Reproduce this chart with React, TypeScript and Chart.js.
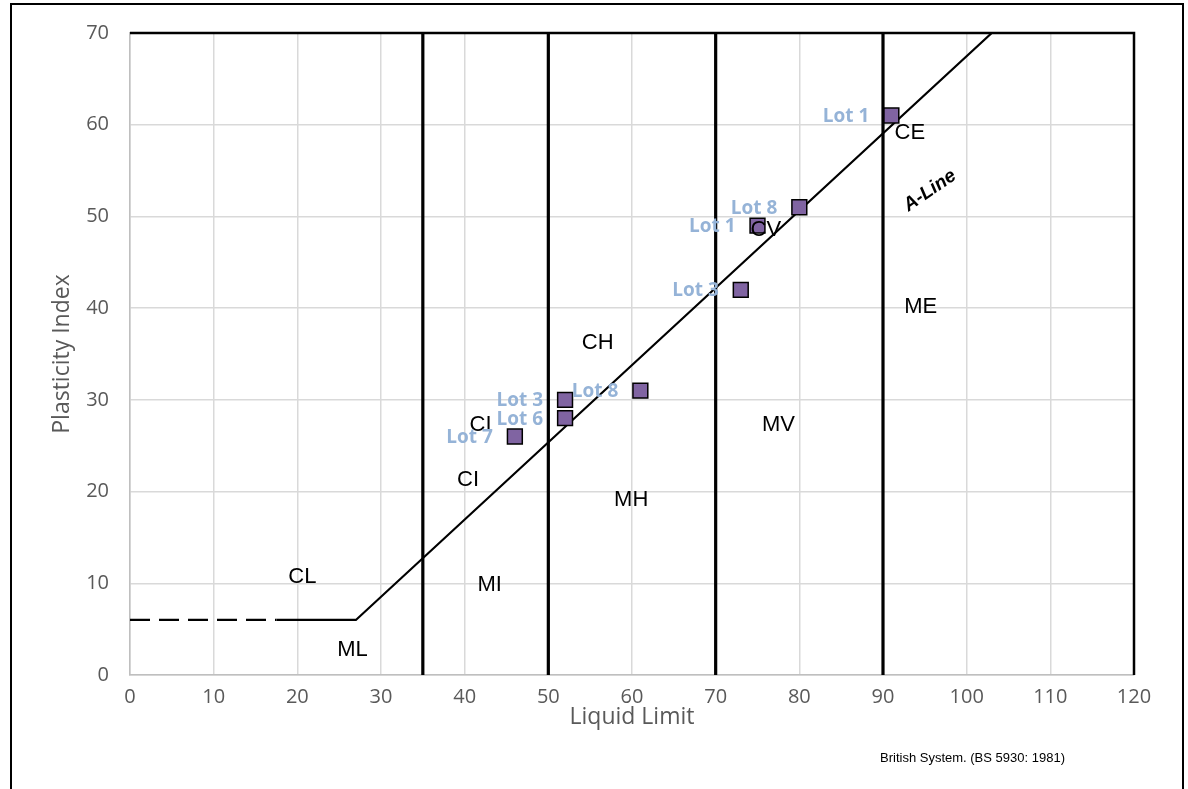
import React, { useEffect, useRef } from "react";
import { Chart, registerables } from "chart.js";

Chart.register(...registerables);

// ---- data ----
const lotNames = ["Lot 1", "Lot 8", "Lot 1", "Lot 3", "Lot 8", "Lot 3", "Lot 6", "Lot 7"];
const liquidLimit = [91, 80, 75, 73, 61, 52, 52, 46];
const plasticityIndex = [61, 51, 49, 42, 31, 30, 28, 26];

const aLineSolidX = [17.5, 27, 103];
const aLineSolidY = [6, 6, 70];
const aLineDashX = [0, 17.5];
const aLineDashY = [6, 6];

const boundaryLL = [35, 50, 70, 90];

const zoneNames = ["CL", "ML", "MI", "CI", "CI", "MH", "CH", "MV", "CV", "ME", "CE"];
const zoneX = [20.6, 26.6, 43.0, 40.4, 41.9, 59.9, 55.9, 77.5, 76.0, 94.5, 93.2];
const zoneY = [10.7, 2.7, 9.8, 21.3, 27.3, 19.1, 36.2, 27.3, 48.5, 40.1, 59.1];

const aLineLabel = { text: "A-Line", x: 95.6, y: 52.8 };

const xTicksMax = 120;
const yTicksMax = 70;
const tickStep = 10;

const footnote = "British System. (BS 5930: 1981)";

const labelPlugin = {
  id: "labels",
  afterDatasetsDraw(chart: any) {
    const ctx = chart.ctx;
    const xs = chart.scales.x;
    const ys = chart.scales.y;
    ctx.save();
    // zone labels
    ctx.fillStyle = "#000";
    ctx.font = '22px "Liberation Sans", Arial, sans-serif';
    ctx.textAlign = "center";
    ctx.textBaseline = "middle";
    zoneNames.forEach((n, i) => {
      ctx.fillText(n, xs.getPixelForValue(zoneX[i]), ys.getPixelForValue(zoneY[i]));
    });
    // A-Line
    ctx.save();
    ctx.translate(xs.getPixelForValue(aLineLabel.x), ys.getPixelForValue(aLineLabel.y));
    ctx.rotate((-34.5 * Math.PI) / 180);
    ctx.font = 'italic bold 19px "Liberation Sans", Arial, sans-serif';
    ctx.fillText(aLineLabel.text, 0, 0);
    ctx.restore();
    // point labels
    ctx.fillStyle = "#95B3D7";
    ctx.font = 'bold 19px "Open Sans", sans-serif';
    ctx.textAlign = "right";
    lotNames.forEach((n, i) => {
      ctx.fillText(n, xs.getPixelForValue(liquidLimit[i]) - 22, ys.getPixelForValue(plasticityIndex[i]) + 1);
    });
    ctx.restore();
  },
  afterDraw(chart: any) {
    const ctx = chart.ctx;
    ctx.save();
    ctx.fillStyle = "#000";
    ctx.font = '13px "Liberation Sans", Arial, sans-serif';
    ctx.textAlign = "left";
    ctx.textBaseline = "middle";
    ctx.fillText(footnote, 880, 758);
    ctx.restore();
  },
};

export default function App() {
  const ref = useRef<HTMLCanvasElement>(null);
  useEffect(() => {
    if (!ref.current) return;
    const pts = liquidLimit.map((x, i) => ({ x, y: plasticityIndex[i] }));
    const datasets: any[] = [
      {
        type: "scatter",
        label: "Samples",
        data: pts,
        pointStyle: "rect",
        pointRadius: 10.5,
        backgroundColor: "#8064A2",
        borderColor: "#000",
        borderWidth: 1.5,
        order: 0,
      },
      {
        type: "line",
        label: "A-Line",
        data: aLineSolidX.map((x, i) => ({ x, y: aLineSolidY[i] })),
        borderColor: "#000",
        borderWidth: 2.2,
        pointRadius: 0,
        fill: false,
        order: 1,
      },
      {
        type: "line",
        label: "A-Line dashed",
        data: aLineDashX.map((x, i) => ({ x, y: aLineDashY[i] })),
        borderColor: "#000",
        borderWidth: 2.2,
        borderDash: [20, 9],
        pointRadius: 0,
        fill: false,
        order: 1,
      },
      ...boundaryLL.map((v) => ({
        type: "line",
        label: "LL " + v,
        data: [
          { x: v, y: 0 },
          { x: v, y: yTicksMax },
        ],
        borderColor: "#000",
        borderWidth: 3.2,
        pointRadius: 0,
        fill: false,
        order: 1,
      })),
      {
        type: "line",
        label: "frame",
        data: [
          { x: 0, y: yTicksMax },
          { x: xTicksMax, y: yTicksMax },
          { x: xTicksMax, y: 0 },
        ],
        borderColor: "#000",
        borderWidth: 2.5,
        pointRadius: 0,
        fill: false,
        clip: 6,
        order: 1,
      },
    ];
    const chart = new Chart(ref.current, {
      type: "scatter",
      data: { datasets },
      plugins: [labelPlugin],
      options: {
        animation: false,
        responsive: false,
        maintainAspectRatio: false,
        layout: { padding: { left: 46, right: 54, top: 33, bottom: 54 } },
        plugins: { legend: { display: false }, tooltip: { enabled: false } },
        scales: {
          x: {
            type: "linear",
            min: 0,
            max: xTicksMax,
            afterFit: (s: any) => {
              s.height = 60;
            },
            ticks: {
              stepSize: tickStep,
              color: "#595959",
              font: { family: '"Open Sans", sans-serif', size: 20 },
              padding: 10,
            },
            grid: { color: "#D9D9D9", lineWidth: 1.5, drawTicks: false },
            border: { color: "#BFBFBF", width: 1.5 },
            title: {
              display: true,
              text: "Liquid Limit",
              color: "#595959",
              font: { family: '"Open Sans", sans-serif', size: 23 },
              padding: { top: 0, bottom: 4 },
            },
          },
          y: {
            type: "linear",
            min: 0,
            max: yTicksMax,
            afterFit: (s: any) => {
              s.width = 84;
            },
            ticks: {
              stepSize: tickStep,
              color: "#595959",
              font: { family: '"Open Sans", sans-serif', size: 20 },
              padding: 21,
            },
            grid: { color: "#D9D9D9", lineWidth: 1.5, drawTicks: false },
            border: { color: "#BFBFBF", width: 1.5 },
            title: {
              display: true,
              text: "Plasticity Index",
              color: "#595959",
              font: { family: '"Open Sans", sans-serif', size: 23 },
              padding: { top: 3, bottom: 0 },
            },
          },
        },
      },
    });
    return () => chart.destroy();
  }, []);
  return (
    <div style={{ position: "fixed", left: 0, top: 0, width: 1188, height: 789, background: "#fff", overflow: "hidden" }}>
      <canvas ref={ref} width={1188} height={789} style={{ position: "absolute", left: 0, top: 0, width: 1188, height: 789 }} />
      <div
        style={{
          position: "absolute",
          left: 10,
          top: 3,
          width: 1170,
          height: 820,
          border: "2px solid #000",
          pointerEvents: "none",
        }}
      />
    </div>
  );
}
